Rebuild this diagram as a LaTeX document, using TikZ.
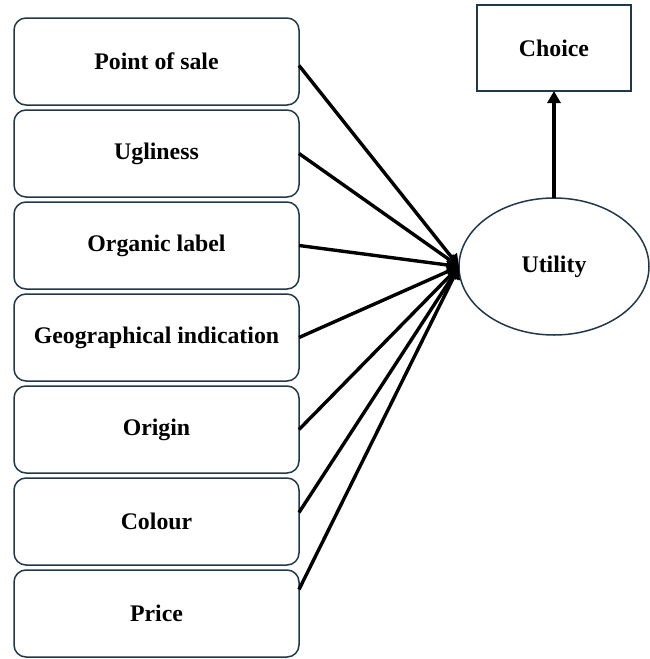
\documentclass[tikz,border=0pt]{standalone}
\usepackage{fontspec}
\setmainfont{Liberation Serif}
\usetikzlibrary{arrows.meta,shapes.geometric,calc}
\definecolor{edgeblue}{RGB}{32,56,74}
\tikzset{
  attr/.style={draw=edgeblue, line width=0.75pt, rounded corners=6pt, minimum width=142.5pt, minimum height=43.5pt, inner sep=0pt, outer sep=0pt, align=center},
  choicebox/.style={draw=edgeblue, line width=0.75pt, minimum width=77pt, minimum height=43pt, inner sep=0pt, outer sep=0pt},
  utilnode/.style={draw=edgeblue, line width=0.75pt, ellipse, minimum width=95pt, minimum height=68.5pt, inner sep=0pt, outer sep=0pt},
  conn/.style={line width=1.7pt, black, -{Triangle[length=6pt,width=6.5pt]}},
  every node/.style={font=\fontsize{11.9}{14}\selectfont\bfseries}
}
\begin{document}
\begin{tikzpicture}[x=0.5pt,y=-0.5pt]
\useasboundingbox (0,0) rectangle (649,659);
\node[attr] (b1) at (156.5,61.5) {Point of sale};
\node[attr] (b2) at (156.5,153.5) {Ugliness};
\node[attr] (b3) at (156.5,245.5) {Organic label};
\node[attr] (b4) at (156.5,337.5) {Geographical indication};
\node[attr] (b5) at (156.5,429.5) {Origin};
\node[attr] (b6) at (156.5,521.5) {Colour};
\node[attr] (b7) at (156.5,613.5) {Price};
\node[utilnode] (u) at (554,266.5) {Utility};
\node[choicebox] (c) at (554,48) {Choice};
\draw[conn] ($(b1.east)+(0,4)$) -- (u.west);
\draw[conn] ($(b2.east)+(0,0)$) -- (u.west);
\draw[conn] ($(b3.east)+(0,0)$) -- (u.west);
\draw[conn] ($(b4.east)+(0,0)$) -- (u.west);
\draw[conn] ($(b5.east)+(0,0)$) -- (u.west);
\draw[conn] ($(b6.east)+(0,-9)$) -- (u.west);
\draw[conn] ($(b7.east)+(0,-24)$) -- (u.west);
\draw[conn] (u.north) -- (c.south);
\end{tikzpicture}
\end{document}
